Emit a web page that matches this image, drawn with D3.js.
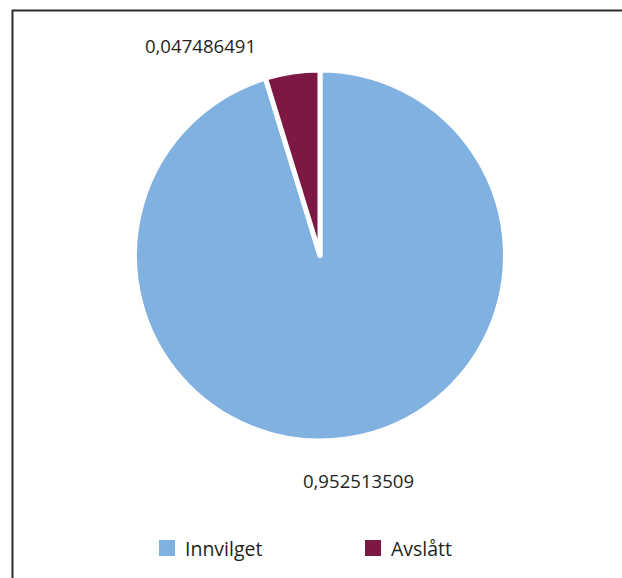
<!DOCTYPE html>
<html><head><meta charset="utf-8">
<script src="https://cdn.jsdelivr.net/npm/d3@7"></script>
<style>html,body{margin:0;padding:0;background:#fff;}</style>
</head><body>
<svg id="chart" width="622" height="578"></svg>
<script>
const categories = ["Innvilget", "Avslått"];
const values = [0.952513509, 0.047486491];
const labels = ["0,952513509", "0,047486491"];
const colors = ["#80b1e0", "#7c1843"];

const svg = d3.select("#chart");
const font = "'Open Sans', sans-serif";

// frame
svg.append("path").attr("d", "M12.5,578 L12.5,10.5 L622,10.5")
  .attr("fill", "none").attr("stroke", "#2b2b2b").attr("stroke-width", 2);

const cx = 320, cy = 255.5, r = 185.5;
const pie = d3.pie().sort(null).startAngle(0).endAngle(2 * Math.PI).value(d => d);
const arcs = pie(values);
const arc = d3.arc().innerRadius(0).outerRadius(r);
const g = svg.append("g").attr("transform", `translate(${cx},${cy})`);
g.selectAll("path").data(arcs).enter().append("path")
  .attr("d", arc)
  .attr("fill", (d, i) => colors[i])
  .attr("stroke", "#fff").attr("stroke-width", 5).attr("stroke-linejoin", "round");

// data labels
const labelPos = [[358.5, 480], [200.5, 45]];
svg.selectAll("text.lbl").data(labels).enter().append("text")
  .attr("class", "lbl")
  .attr("x", (d, i) => labelPos[i][0]).attr("y", (d, i) => labelPos[i][1])
  .attr("text-anchor", "middle").attr("dominant-baseline", "central")
  .attr("font-family", font).attr("font-size", 18.6).attr("fill", "#231f20")
  .text(d => d);

// legend
const legX = [159, 365];
const lg = svg.selectAll("g.leg").data(categories).enter().append("g")
  .attr("class", "leg").attr("transform", (d, i) => `translate(${legX[i]},540)`);
lg.append("rect").attr("width", 16).attr("height", 16).attr("fill", (d, i) => colors[i]);
lg.append("text").attr("x", 26).attr("y", 15.5)
  .attr("font-family", font).attr("font-size", 19.5).attr("fill", "#231f20")
  .text(d => d);
</script>
</body></html>
